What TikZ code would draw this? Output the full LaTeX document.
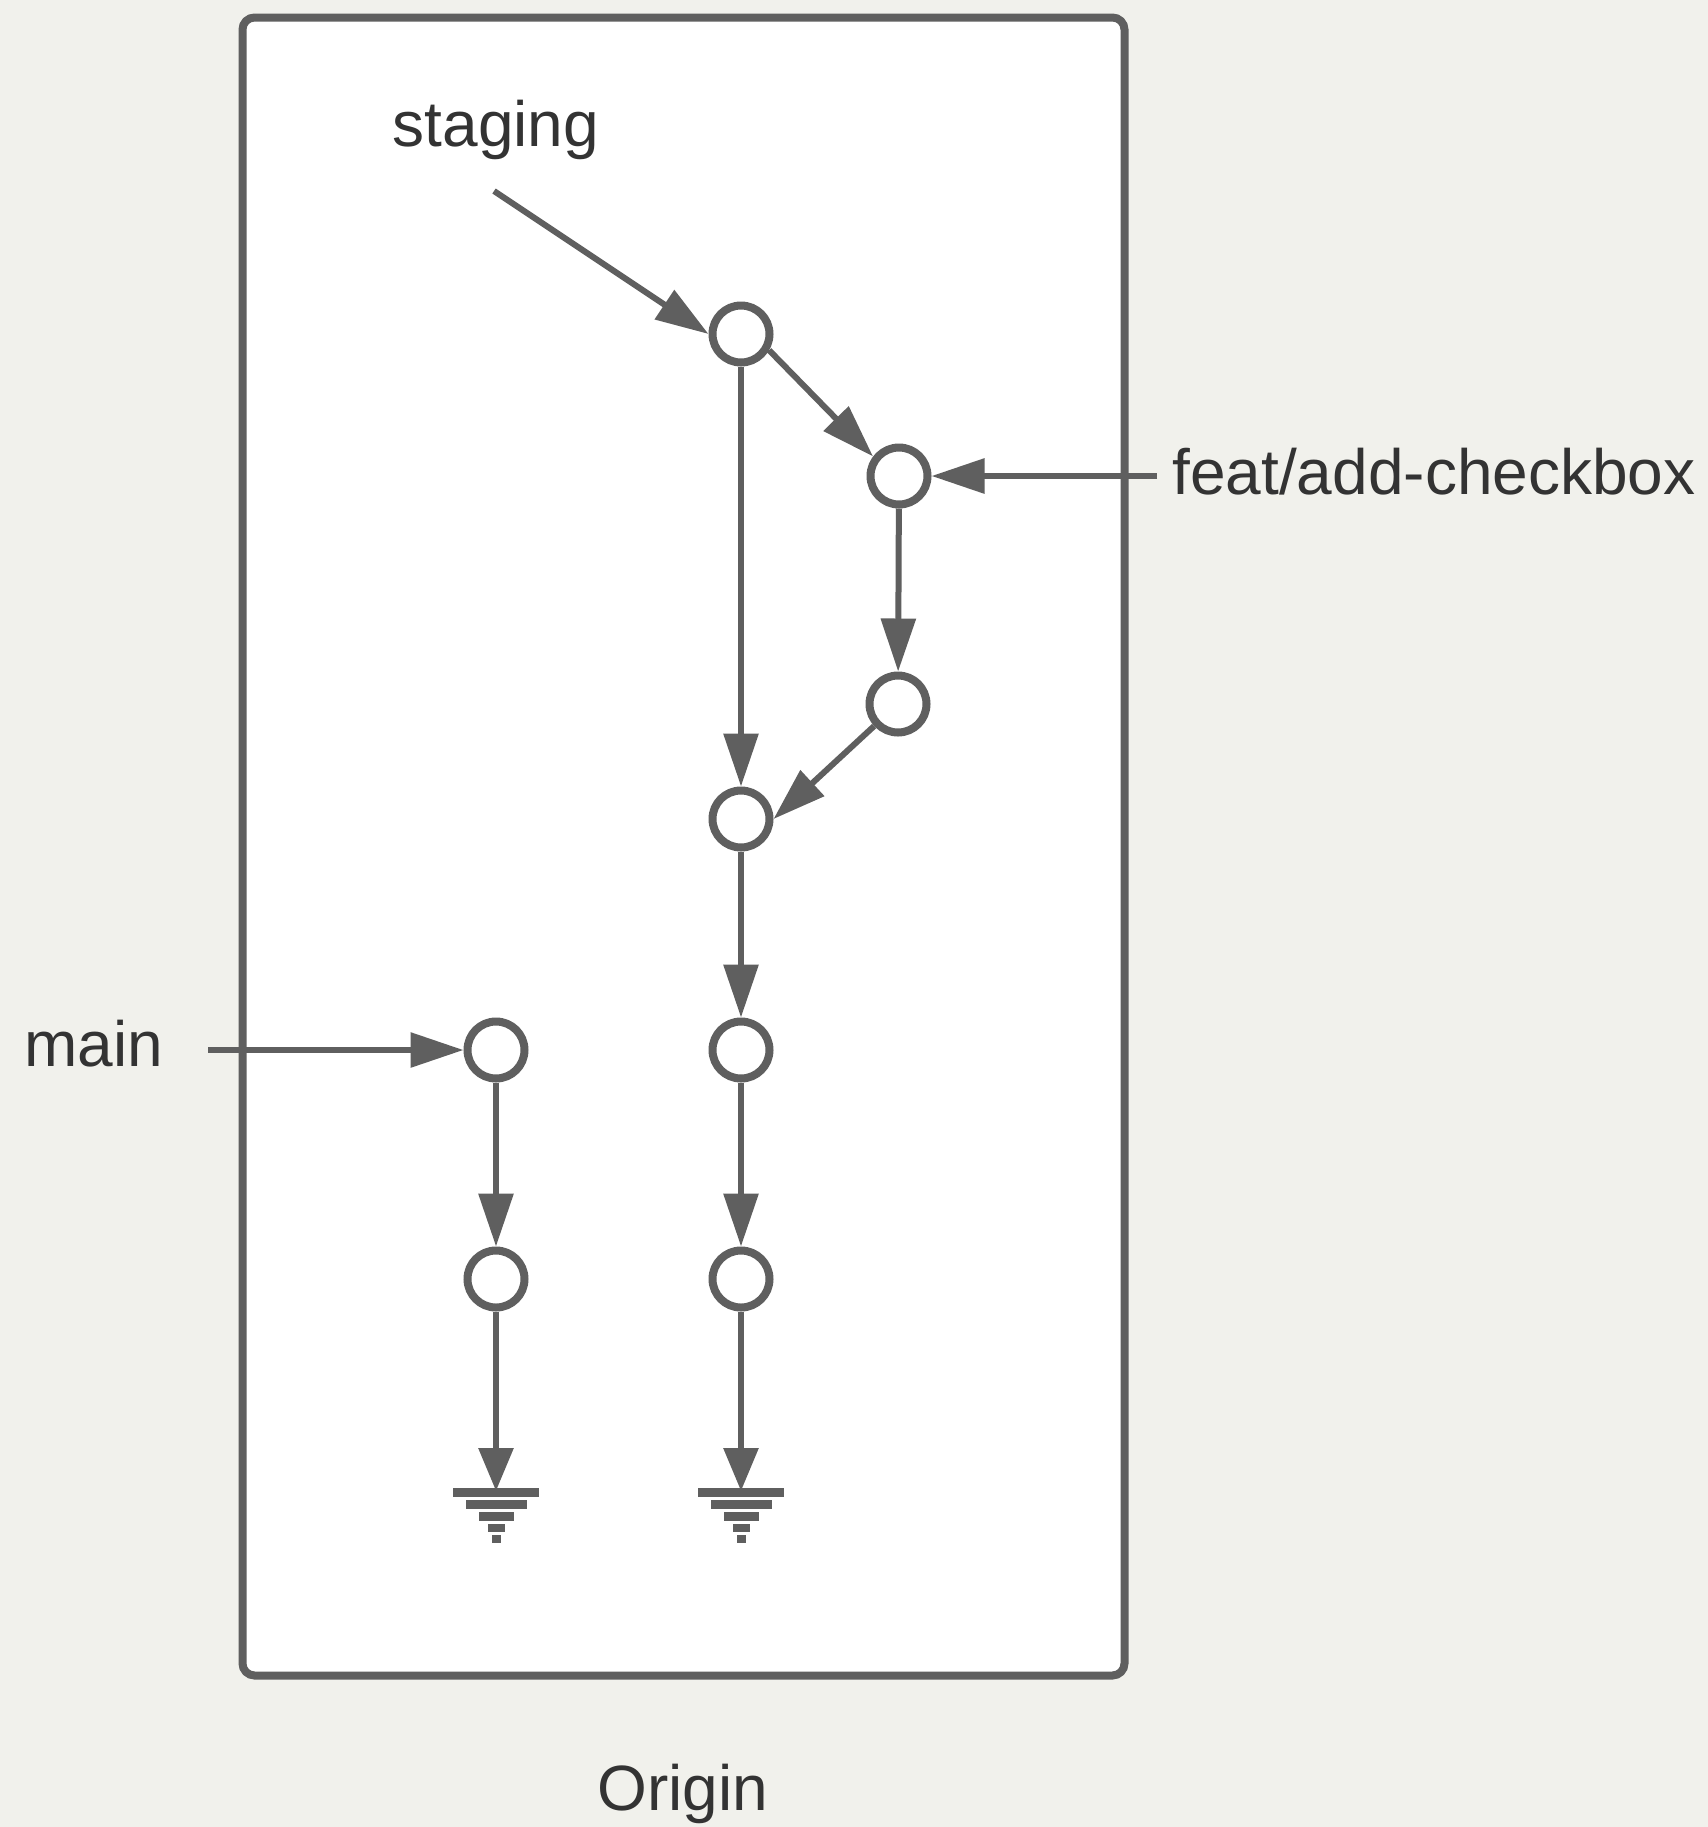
\documentclass[tikz,border=0pt]{standalone}
\usepackage{fontspec}
\setmainfont{Liberation Sans}
\usetikzlibrary{arrows.meta}
\definecolor{ln}{HTML}{5F5F5F}
\definecolor{txt}{HTML}{333333}
\definecolor{bg}{HTML}{F1F1EC}
\begin{document}
\begin{tikzpicture}[x=0.5pt,y=-0.5pt,
  commit/.style={circle,draw=ln,line width=4pt,fill=white,minimum size=28.5pt,inner sep=0pt},
  conn/.style={draw=ln,line width=3pt,-{Triangle[length=26.5pt,width=17pt]}},
  gconn/.style={draw=ln,line width=3pt,-{Triangle[length=21.5pt,width=17pt]}},
  lbl/.style={text=txt,font=\fontsize{32}{38}\selectfont,inner sep=0pt},
  groundbar/.style={fill=ln}]
\fill[bg] (0,0) rectangle (1708,1827);
\useasboundingbox (0,0) rectangle (1708,1827);
\draw[ln,line width=4pt,fill=white,rounded corners=6pt] (242.5,17.5) rectangle (1124.5,1675.5);
% commits
\node[commit] (A) at (741,334) {};
\node[commit] (B) at (899,476) {};
\node[commit] (C) at (898,704) {};
\node[commit] (D) at (741,819) {};
\node[commit] (E) at (741,1050) {};
\node[commit] (F) at (741,1279) {};
\node[commit] (G) at (496,1050) {};
\node[commit] (H) at (496,1279) {};
% labels
\node[lbl,anchor=base] (staging) at (496,146) {staging};
\node[lbl,anchor=base west] (main) at (24,1066) {main};
\node[lbl,anchor=base west] (feat) at (1172,494) {feat/add-checkbox};
\node[lbl,anchor=base] (origin) at (683,1810) {Origin};
% connector free ends
\coordinate (sstart) at (494,191);
\coordinate (mstart) at (208,1050);
\coordinate (fstart) at (1157,476);
\coordinate (g1) at (496,1491);
\coordinate (g2) at (741,1491);
% ground symbols
\foreach \g in {g1,g2}{
  \begin{scope}[shift={(\g)}]
    \fill[groundbar] (-43,-3) rectangle (43,6);
    \fill[groundbar] (-30.5,9) rectangle (30.5,18);
    \fill[groundbar] (-17.5,21) rectangle (17.5,30);
    \fill[groundbar] (-8.5,33) rectangle (8.5,41);
    \fill[groundbar] (-4.5,44) rectangle (4.5,52);
  \end{scope}
}
% connectors
\draw[conn] (sstart) -- (A.west);
\draw[conn] (A.-30) -- (B.143);
\draw[conn] (A) -- (D);
\draw[conn] (fstart) -- (B.east);
\draw[conn] (B) -- (C);
\draw[conn] (C) -- (D.east);
\draw[conn] (D) -- (E);
\draw[conn] (E) -- (F);
\draw[gconn] (F) -- (g2);
\draw[conn] (mstart) -- (G);
\draw[conn] (G) -- (H);
\draw[gconn] (H) -- (g1);
\end{tikzpicture}
\end{document}
